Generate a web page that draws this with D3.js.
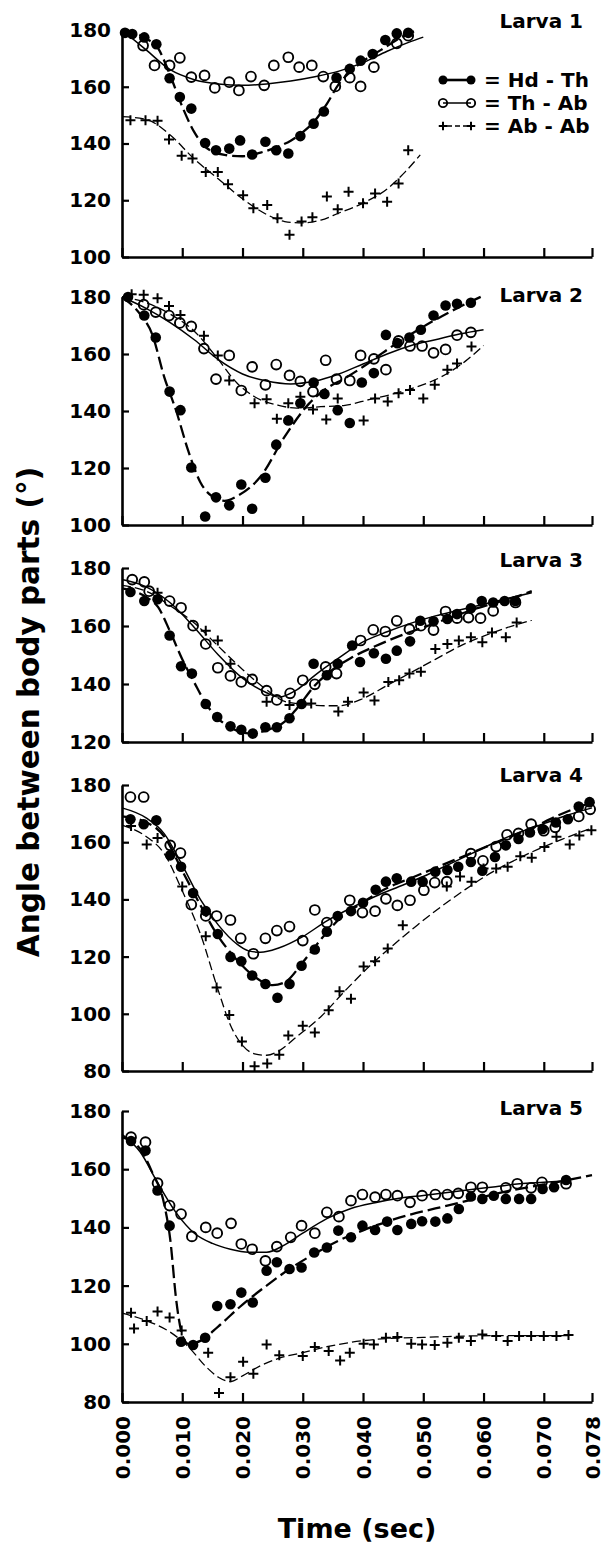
<!DOCTYPE html>
<html>
<head>
<meta charset="utf-8">
<script src="https://cdn.jsdelivr.net/npm/d3@7"></script>
<style>
  html, body { margin: 0; padding: 0; background: #fff; }
  svg { display: block; }
  text { font-family: "DejaVu Sans", "Liberation Sans", Arial, sans-serif; font-weight: bold; fill: #000; }
</style>
</head>
<body>
<svg id="chart" width="610" height="1552"></svg>
<script>
// ---- shared axis values ----
const xTickValues = [0, 0.01, 0.02, 0.03, 0.04, 0.05, 0.06, 0.07, 0.078];
const xDomain = [0, 0.078];
const larvaLabels = ["Larva 1", "Larva 2", "Larva 3", "Larva 4", "Larva 5"];
const yDomains = [[100, 180], [100, 180], [120, 180], [80, 180], [80, 180]];
const seriesNames = ["Hd - Th", "Th - Ab", "Ab - Ab"];

// ---- Larva 1: measured angles [time (s), angle (deg)] ----
const l1HdTh = [[0.0005,179],[0.0017,178.6],[0.0037,177.4],[0.0057,175],[0.0079,163],[0.0096,156.4],[0.0115,152.3],[0.0138,140.2],[0.0156,137.6],[0.0178,138.2],[0.0196,141.1],[0.0216,136.1],[0.0238,140.6],[0.0256,137.6],[0.0276,136.5],[0.0296,142.6],[0.0318,147],[0.0335,151.3],[0.0356,163.2],[0.0378,166.3],[0.0396,169.2],[0.0416,171.5],[0.0437,176.5],[0.0456,178.8],[0.0475,179]];
const l1ThAb = [[0.0035,174.5],[0.0054,167.5],[0.0079,167.5],[0.0096,170.2],[0.0115,163.4],[0.0137,164],[0.0154,159.6],[0.0178,161.6],[0.0194,158.7],[0.0214,163.6],[0.0236,160.5],[0.0252,167.5],[0.0276,170.4],[0.0294,166.9],[0.0315,167.5],[0.0334,163.6],[0.0354,160.1],[0.0378,163.2],[0.0396,160.1],[0.0418,166.9],[0.0456,175.3],[0.0475,178]];
const l1AbAb = [[0.0014,148.2],[0.0039,148.2],[0.0059,148],[0.0078,141.4],[0.0099,135.7],[0.0117,134.7],[0.0139,130],[0.0159,130],[0.0176,125.6],[0.0201,121.8],[0.0218,117.2],[0.0241,118.3],[0.0258,113.7],[0.0278,107.8],[0.0298,112.5],[0.0316,114],[0.034,121.3],[0.0358,116.8],[0.0376,123],[0.04,118.9],[0.042,122.4],[0.044,119.5],[0.0459,125.9],[0.0475,137.6]];
// fitted curves
const l1HdThFit = [[0,180],[0.004,177],[0.006,173.5],[0.008,164],[0.010,153],[0.012,144],[0.014,138.5],[0.017,136],[0.020,135.5],[0.023,136.8],[0.026,139],[0.028,141],[0.030,144],[0.032,148],[0.034,154],[0.036,161],[0.038,165.5],[0.040,169],[0.043,173],[0.046,177],[0.049,180]];
const l1ThAbFit = [[0,180],[0.004,173],[0.008,166],[0.012,162.5],[0.016,161],[0.020,160.5],[0.024,161],[0.028,162],[0.032,163.5],[0.036,165.5],[0.040,168.5],[0.044,172.5],[0.048,176],[0.050,177.5]];
const l1AbAbFit = [[0,149.5],[0.004,148.5],[0.008,143],[0.012,134.5],[0.016,127.5],[0.020,120.5],[0.024,115],[0.027,112.5],[0.030,112],[0.033,113],[0.036,115.5],[0.040,119],[0.044,124],[0.047,130],[0.0495,136]];

// ---- Larva 2 ----
const l2HdTh = [[0.001,180],[0.0037,173.5],[0.0056,165.8],[0.0079,146.8],[0.0097,140.3],[0.0115,120.2],[0.0138,103],[0.0156,109.7],[0.0178,106.9],[0.0198,114.2],[0.0216,105.7],[0.0238,116.6],[0.0256,128.2],[0.0276,136.7],[0.0296,142.7],[0.0318,150],[0.0336,146],[0.0358,140.3],[0.0378,135.8],[0.0398,150],[0.0418,153.3],[0.0438,166.7],[0.0457,163.8],[0.0477,165.8],[0.0496,168.5],[0.0517,173.5],[0.0537,177],[0.0556,177.6],[0.0579,178]];
const l2ThAb = [[0.0036,177.3],[0.0056,174.7],[0.0078,173.5],[0.0096,170.9],[0.0115,169.7],[0.0136,161.9],[0.0156,151.2],[0.0178,159.5],[0.0198,147.2],[0.0216,155.5],[0.0238,149.2],[0.0256,156.3],[0.0278,152.5],[0.0296,150.4],[0.0317,146.8],[0.0338,157.8],[0.0356,151.2],[0.0378,150.7],[0.0396,159.5],[0.0418,158.3],[0.0438,154.5],[0.0459,164.6],[0.0478,162.8],[0.0498,162.8],[0.0517,160.4],[0.0537,161.6],[0.0556,166.6],[0.0579,167.6]];
const l2AbAb = [[0.0016,181],[0.0036,180.8],[0.0059,179.6],[0.0078,176.8],[0.0097,173.7],[0.0136,166.4],[0.0159,159.5],[0.0178,150.7],[0.022,142.7],[0.024,144.1],[0.0257,137.3],[0.0276,142.7],[0.0296,145],[0.0317,140.5],[0.0339,137],[0.0358,144.4],[0.0401,136.7],[0.042,144.4],[0.0441,143.3],[0.0459,146.2],[0.0478,147.4],[0.05,144.4],[0.0519,149.2],[0.054,154.5],[0.0556,156.7],[0.058,162.6]];
const l2HdThFit = [[0,180],[0.003,174],[0.005,167],[0.007,152],[0.009,140],[0.011,126],[0.013,115],[0.015,110],[0.017,108.5],[0.019,110],[0.023,117],[0.027,131],[0.031,142.5],[0.034,148],[0.037,151.5],[0.040,155.5],[0.044,161.5],[0.048,167],[0.052,172],[0.056,176.5],[0.060,180.5]];
const l2ThAbFit = [[0,180],[0.004,176],[0.008,171],[0.012,165],[0.016,158],[0.020,153],[0.024,150.5],[0.028,149.5],[0.032,150.5],[0.036,153],[0.040,156.5],[0.044,160],[0.048,163],[0.052,165],[0.056,167],[0.060,168.5]];
const l2AbAbFit = [[0,180],[0.004,178],[0.008,174],[0.012,168],[0.016,158],[0.019,150],[0.022,145],[0.026,142],[0.029,141],[0.033,141.5],[0.037,142],[0.041,144],[0.045,146],[0.049,148.5],[0.053,152],[0.057,157.5],[0.060,163]];

// ---- Larva 3 ----
const l3HdTh = [[0.0014,171.7],[0.0037,168.6],[0.0059,169.2],[0.0079,156.7],[0.0098,146.1],[0.0116,143.6],[0.0139,133.1],[0.0158,128.6],[0.018,125.4],[0.0198,124.2],[0.0217,122.9],[0.0238,125.1],[0.0257,125.1],[0.0278,128.2],[0.0298,133.1],[0.0318,147],[0.034,143],[0.0358,147],[0.0382,153.3],[0.0395,147.6],[0.0418,150.6],[0.0438,148.7],[0.0456,151.5],[0.0478,154.7],[0.0495,161.8],[0.0517,161.6],[0.054,162.4],[0.0556,164.1],[0.0579,166.1],[0.0597,168.6],[0.0616,168.1],[0.0635,168.6],[0.0653,168.6]];
const l3ThAb = [[0.0017,176],[0.0037,175.2],[0.0045,172],[0.0079,168.6],[0.0098,166.3],[0.0118,160.1],[0.0139,153.8],[0.0159,145.6],[0.018,142.8],[0.0198,140.7],[0.0216,141.6],[0.024,137.7],[0.0257,134.5],[0.0279,136.8],[0.03,141.3],[0.032,139.9],[0.0338,145.9],[0.0356,143.6],[0.0396,155],[0.0417,158.7],[0.0437,158.1],[0.0456,161.8],[0.0477,158.9],[0.0496,160.1],[0.0517,158.6],[0.0537,165],[0.0556,162.7],[0.0575,162.9],[0.0595,162.7],[0.0616,165.2],[0.0653,168.1]];
const l3AbAb = [[0.0059,171.5],[0.0139,158.4],[0.0159,155],[0.018,147],[0.024,133.9],[0.0278,132.8],[0.0314,133.3],[0.0359,130.5],[0.0375,133.9],[0.0401,137.1],[0.0419,134.3],[0.0442,140.7],[0.046,141.3],[0.0477,143.6],[0.0496,144.2],[0.052,152.1],[0.054,153.8],[0.0559,155],[0.0579,156.1],[0.0598,154.4],[0.0614,157.8],[0.0637,156.1],[0.0655,161.2]];
const l3HdThFit = [[0,173],[0.004,170],[0.006,166.5],[0.008,158],[0.010,148.5],[0.012,140.5],[0.014,133],[0.016,128],[0.018,125],[0.021,123],[0.024,124],[0.027,127],[0.029,131.5],[0.032,139.5],[0.035,145],[0.038,149],[0.042,153],[0.046,156.5],[0.050,159.5],[0.054,162.5],[0.058,165.5],[0.062,168],[0.066,170.5],[0.068,172]];
const l3ThAbFit = [[0,176],[0.004,173.5],[0.008,168],[0.012,159.5],[0.016,150],[0.020,142],[0.024,137],[0.026,135.5],[0.029,138],[0.032,143],[0.036,149],[0.040,154.5],[0.044,158],[0.048,161],[0.052,163.5],[0.056,165.5],[0.060,167.5],[0.064,169.5],[0.068,171.5]];
const l3AbAbFit = [[0,174],[0.004,172],[0.008,167],[0.012,161],[0.016,153],[0.020,145],[0.024,138],[0.027,134],[0.030,133],[0.034,132.5],[0.036,132.5],[0.040,135],[0.044,139.5],[0.048,144],[0.052,148.5],[0.056,153],[0.060,156.5],[0.064,159.5],[0.068,162]];

// ---- Larva 4 ----
const l4HdTh = [[0.0014,168],[0.0036,166.3],[0.0057,167.7],[0.008,155.4],[0.0098,151.4],[0.0118,142.2],[0.0139,135.9],[0.0159,127.9],[0.018,119.9],[0.0198,118.4],[0.0216,113.4],[0.0238,110.4],[0.0258,105.6],[0.0278,110.4],[0.0298,116.8],[0.032,122.5],[0.034,128.7],[0.0358,134.2],[0.038,135.9],[0.04,138.8],[0.0421,143.4],[0.0438,146.2],[0.0456,147.4],[0.048,146.2],[0.0499,146.2],[0.052,149.7],[0.054,150.3],[0.0558,151.4],[0.0579,153.1],[0.0598,150],[0.0619,154.8],[0.0637,158.9],[0.0658,161.1],[0.0677,163.4],[0.0698,164.6],[0.072,166.9],[0.074,168],[0.0758,172.5],[0.0776,174]];
const l4ThAb = [[0.0014,175.8],[0.0036,175.8],[0.008,158.9],[0.0097,156.2],[0.0115,138.2],[0.0139,134.2],[0.0157,134.2],[0.018,132.8],[0.0197,126.4],[0.0218,121],[0.0238,126.4],[0.0257,129.1],[0.0278,130.5],[0.03,125.6],[0.032,136.3],[0.034,131.9],[0.0378,139.7],[0.0399,135.4],[0.042,135.9],[0.0438,140.2],[0.0457,137.9],[0.0478,139.7],[0.0501,143.2],[0.0519,145.9],[0.0539,146.2],[0.0579,156],[0.0599,153.5],[0.0621,158.5],[0.0639,162.6],[0.0658,163.1],[0.0679,166.3],[0.07,164],[0.0719,165.2],[0.0758,169],[0.0777,171.5]];
const l4AbAb = [[0.0015,165.7],[0.0041,159.2],[0.0059,161.5],[0.01,144.5],[0.0139,127.1],[0.0157,109.2],[0.0178,99.6],[0.0199,90.3],[0.022,81.7],[0.0241,82.6],[0.0261,85.7],[0.0276,92.4],[0.03,95.8],[0.032,93.5],[0.0343,101.2],[0.0361,107.9],[0.038,105.3],[0.0401,116.5],[0.042,118.4],[0.0441,122.8],[0.0466,131],[0.0539,144.5],[0.0561,148],[0.058,146.2],[0.06,150.8],[0.0621,150.8],[0.064,151.4],[0.0661,155.1],[0.068,154.6],[0.0701,158.3],[0.0721,161.9],[0.0743,159.2],[0.0759,162.3],[0.0779,164.2]];
const l4HdThFit = [[0,169],[0.004,167],[0.007,162],[0.010,150],[0.013,138],[0.016,127],[0.019,119],[0.022,113],[0.025,110],[0.027,111],[0.030,118],[0.033,126],[0.036,133],[0.040,139],[0.044,144],[0.048,147.5],[0.052,151],[0.056,154.5],[0.060,158],[0.064,161.5],[0.068,165],[0.072,169],[0.076,172.5],[0.078,174]];
const l4ThAbFit = [[0,172],[0.004,168.5],[0.007,163],[0.010,152],[0.013,140],[0.016,131],[0.019,124.5],[0.021,122],[0.023,121.5],[0.026,123],[0.030,127],[0.034,132.5],[0.038,137],[0.042,141],[0.046,144.5],[0.050,148],[0.054,152],[0.058,156],[0.062,160],[0.066,163.5],[0.070,166.5],[0.074,169.5],[0.078,172]];
const l4AbAbFit = [[0,166],[0.004,162],[0.007,156],[0.010,143],[0.013,128],[0.016,108],[0.018,96],[0.020,89],[0.022,86],[0.024,85.5],[0.026,87],[0.029,92],[0.033,99],[0.037,108],[0.041,116.5],[0.045,124],[0.049,131],[0.053,137.5],[0.057,143.5],[0.061,149],[0.065,153.5],[0.069,157.5],[0.073,161],[0.078,165]];

// ---- Larva 5 ----
const l5HdTh = [[0.0015,169.7],[0.0039,166.4],[0.0059,152.7],[0.0079,140.6],[0.0098,100.7],[0.0118,99.6],[0.0138,102.1],[0.0158,113],[0.018,113.6],[0.0198,117.6],[0.0217,114.2],[0.024,125.1],[0.0257,128],[0.0278,125.7],[0.0298,126.2],[0.0319,131.4],[0.034,133.1],[0.0359,138.9],[0.038,136.6],[0.0399,140.6],[0.042,139.1],[0.044,142],[0.0457,139.1],[0.048,141.2],[0.0498,142.1],[0.052,142],[0.054,143.1],[0.0559,146.3],[0.0579,150.6],[0.0598,149.8],[0.0617,150.9],[0.0637,149.8],[0.0659,149.8],[0.0679,149.8],[0.0698,153.2],[0.0717,153.8],[0.0737,156.3]];
const l5ThAb = [[0.0015,171],[0.0039,169.3],[0.0059,155.2],[0.0079,147.5],[0.0098,144.6],[0.0116,136.9],[0.0139,140],[0.0158,138],[0.0181,141.4],[0.0198,134.3],[0.0216,132.5],[0.0238,128.5],[0.0257,133.4],[0.028,136.6],[0.0298,140.6],[0.032,138],[0.034,145.2],[0.036,143.7],[0.038,149.2],[0.0399,151.3],[0.042,150.4],[0.0438,151.3],[0.0457,150.9],[0.0478,148.6],[0.0498,150.9],[0.052,151.3],[0.054,151.3],[0.0558,151.7],[0.0579,153.8],[0.0598,153.8],[0.0637,153.6],[0.0656,155],[0.0679,153.6],[0.0697,155.5],[0.0737,155]];
const l5AbAb = [[0.0015,110.7],[0.002,105.3],[0.0041,107.8],[0.0059,111.1],[0.0079,109],[0.0099,104.6],[0.0143,96.9],[0.0161,83.1],[0.018,88.5],[0.0201,93.8],[0.0218,89.7],[0.024,99.8],[0.0261,96.1],[0.03,95.8],[0.032,98.9],[0.0343,97.5],[0.0362,94.3],[0.0378,96.9],[0.0401,100],[0.0418,99.8],[0.0438,102.1],[0.0457,102.3],[0.048,100],[0.0498,99.8],[0.0519,99.6],[0.054,100.4],[0.0559,102.1],[0.0579,101],[0.0598,103.2],[0.0621,102.7],[0.064,101],[0.0659,102.7],[0.0679,102.7],[0.07,102.7],[0.0721,102.7],[0.0741,103]];
const l5HdThFit = [[0,171],[0.003,167],[0.005,159],[0.007,148],[0.008,136],[0.009,115],[0.010,103],[0.011,100],[0.013,101],[0.016,106],[0.020,113.5],[0.024,120],[0.028,126],[0.032,131],[0.036,135.5],[0.040,139],[0.044,142],[0.048,144.5],[0.052,146.5],[0.056,148.5],[0.060,150.5],[0.064,152.5],[0.068,154],[0.072,155.5],[0.078,158]];
const l5ThAbFit = [[0,172],[0.003,166],[0.006,155],[0.009,145],[0.012,138],[0.015,134.5],[0.018,132.5],[0.021,131.5],[0.024,131.5],[0.027,134],[0.030,138],[0.034,143],[0.038,146.5],[0.042,148.5],[0.046,150],[0.050,151],[0.054,152],[0.058,153],[0.062,154],[0.066,155],[0.070,155.5],[0.074,156]];
const l5AbAbFit = [[0,110.5],[0.004,108],[0.008,104],[0.011,99],[0.014,92],[0.016,88.5],[0.018,87],[0.020,89],[0.023,92.5],[0.026,95],[0.030,97],[0.034,99],[0.038,100.5],[0.042,101.5],[0.046,102],[0.050,102.2],[0.054,102.5],[0.058,102.7],[0.062,102.8],[0.066,102.8],[0.070,102.8],[0.0745,102.8]];

// ---- layout ----
const svg = d3.select("#chart");
const plotLeft = 122, plotRight = 592;
// pixel rows for each panel: [top value row, bottom value row]
const panelRows = [[30, 257], [297, 525], [568, 742], [785, 1071], [1111, 1402]];
const labelBaselines = [28, 302, 567, 782, 1115];

const x = d3.scaleLinear().domain(xDomain).range([plotLeft, plotRight]);

const panels = [
  { pts: [l1HdTh, l1ThAb, l1AbAb], fits: [l1HdThFit, l1ThAbFit, l1AbAbFit] },
  { pts: [l2HdTh, l2ThAb, l2AbAb], fits: [l2HdThFit, l2ThAbFit, l2AbAbFit] },
  { pts: [l3HdTh, l3ThAb, l3AbAb], fits: [l3HdThFit, l3ThAbFit, l3AbAbFit] },
  { pts: [l4HdTh, l4ThAb, l4AbAb], fits: [l4HdThFit, l4ThAbFit, l4AbAbFit] },
  { pts: [l5HdTh, l5ThAb, l5AbAb], fits: [l5HdThFit, l5ThAbFit, l5AbAbFit] }
];

// line style per series: head-thorax heavy dashes, thorax-abdomen thin solid, abdomen-abdomen thin dashes
const lineStyles = [
  { width: 2.3, dash: "13 5" },
  { width: 1.5, dash: null },
  { width: 1.3, dash: "9 4" }
];

function drawMarker(g, kind, cx, cy, scale = 1) {
  if (kind === 0) {
    g.append("circle").attr("cx", cx).attr("cy", cy).attr("r", 5.3 * scale).attr("fill", "#000");
  } else if (kind === 1) {
    g.append("circle").attr("cx", cx).attr("cy", cy).attr("r", 4.9 * scale)
      .attr("fill", "none").attr("stroke", "#000").attr("stroke-width", 1.9);
  } else {
    const s = 5 * scale;
    g.append("path").attr("d", `M${cx - s},${cy}H${cx + s}M${cx},${cy - s}V${cy + s}`)
      .attr("stroke", "#000").attr("stroke-width", 2).attr("fill", "none");
  }
}

panels.forEach((p, i) => {
  const dom = yDomains[i];
  const y = d3.scaleLinear().domain([dom[1], dom[0]]).range(panelRows[i]);
  const g = svg.append("g");

  // y axis
  const yAxis = d3.axisLeft(y).tickValues(d3.range(dom[0], dom[1] + 1, 20))
    .tickSizeInner(-7).tickSizeOuter(0).tickPadding(11).tickFormat(d3.format("d"));
  const ya = g.append("g").attr("transform", `translate(${plotLeft},0)`).call(yAxis);
  ya.select(".domain").attr("stroke-width", 2.6);
  ya.selectAll(".tick line").attr("stroke-width", 2.2);
  ya.selectAll(".tick text").style("font-size", "20px").style("font-family", "DejaVu Sans").style("font-weight", "bold");

  // x axis
  const xAxis = d3.axisBottom(x).tickValues(xTickValues).tickSizeInner(-9).tickSizeOuter(0)
    .tickFormat(i === panels.length - 1 ? d3.format(".3f") : "");
  const xa = g.append("g").attr("transform", `translate(0,${panelRows[i][1]})`).call(xAxis);
  xa.select(".domain").attr("stroke-width", 2.6);
  xa.selectAll(".tick line").attr("stroke-width", 2.2);
  xa.selectAll(".tick text")
    .style("font-size", "20px").style("font-family", "DejaVu Sans").style("font-weight", "bold")
    .attr("text-anchor", "end").attr("y", 0).attr("dy", "0.36em")
    .attr("transform", "translate(0,14) rotate(-90)");

  // fitted curves
  p.fits.forEach((fit, k) => {
    const line = d3.line().x(d => x(d[0])).y(d => y(d[1])).curve(d3.curveMonotoneX);
    const path = g.append("path").attr("d", line(fit)).attr("fill", "none")
      .attr("stroke", "#000").attr("stroke-width", lineStyles[k].width);
    if (lineStyles[k].dash) path.attr("stroke-dasharray", lineStyles[k].dash);
  });

  // data points
  [2, 0, 1].forEach(k => {
    p.pts[k].forEach(d => drawMarker(g, k, x(d[0]), y(d[1])));
  });

  // panel label
  g.append("text").attr("x", 583).attr("y", labelBaselines[i])
    .attr("text-anchor", "end").style("font-size", "20px").text(larvaLabels[i]);
});

// legend in the first panel
const legendRows = [80, 103, 126];
const leg = svg.append("g");
seriesNames.forEach((name, k) => {
  const yy = legendRows[k];
  const seg = leg.append("line").attr("x1", 443).attr("x2", 471).attr("y1", yy).attr("y2", yy)
    .attr("stroke", "#000").attr("stroke-width", k === 0 ? 2.6 : 1.5);
  if (k === 2) seg.attr("stroke-dasharray", "5 3").attr("stroke-dashoffset", -4);
  drawMarker(leg, k, 443, yy, 0.85);
  drawMarker(leg, k, 471, yy, 0.85);
  leg.append("text").attr("x", 484).attr("y", yy).attr("dy", "0.36em")
    .style("font-size", "20px").text("= " + name);
});

// axis titles
svg.append("text")
  .attr("transform", "translate(39,712) rotate(-90)")
  .attr("text-anchor", "middle").style("font-size", "29.5px")
  .text("Angle between body parts (°)");

svg.append("text").attr("x", 357).attr("y", 1538)
  .attr("text-anchor", "middle").style("font-size", "27px")
  .text("Time (sec)");
</script>
</body>
</html>
